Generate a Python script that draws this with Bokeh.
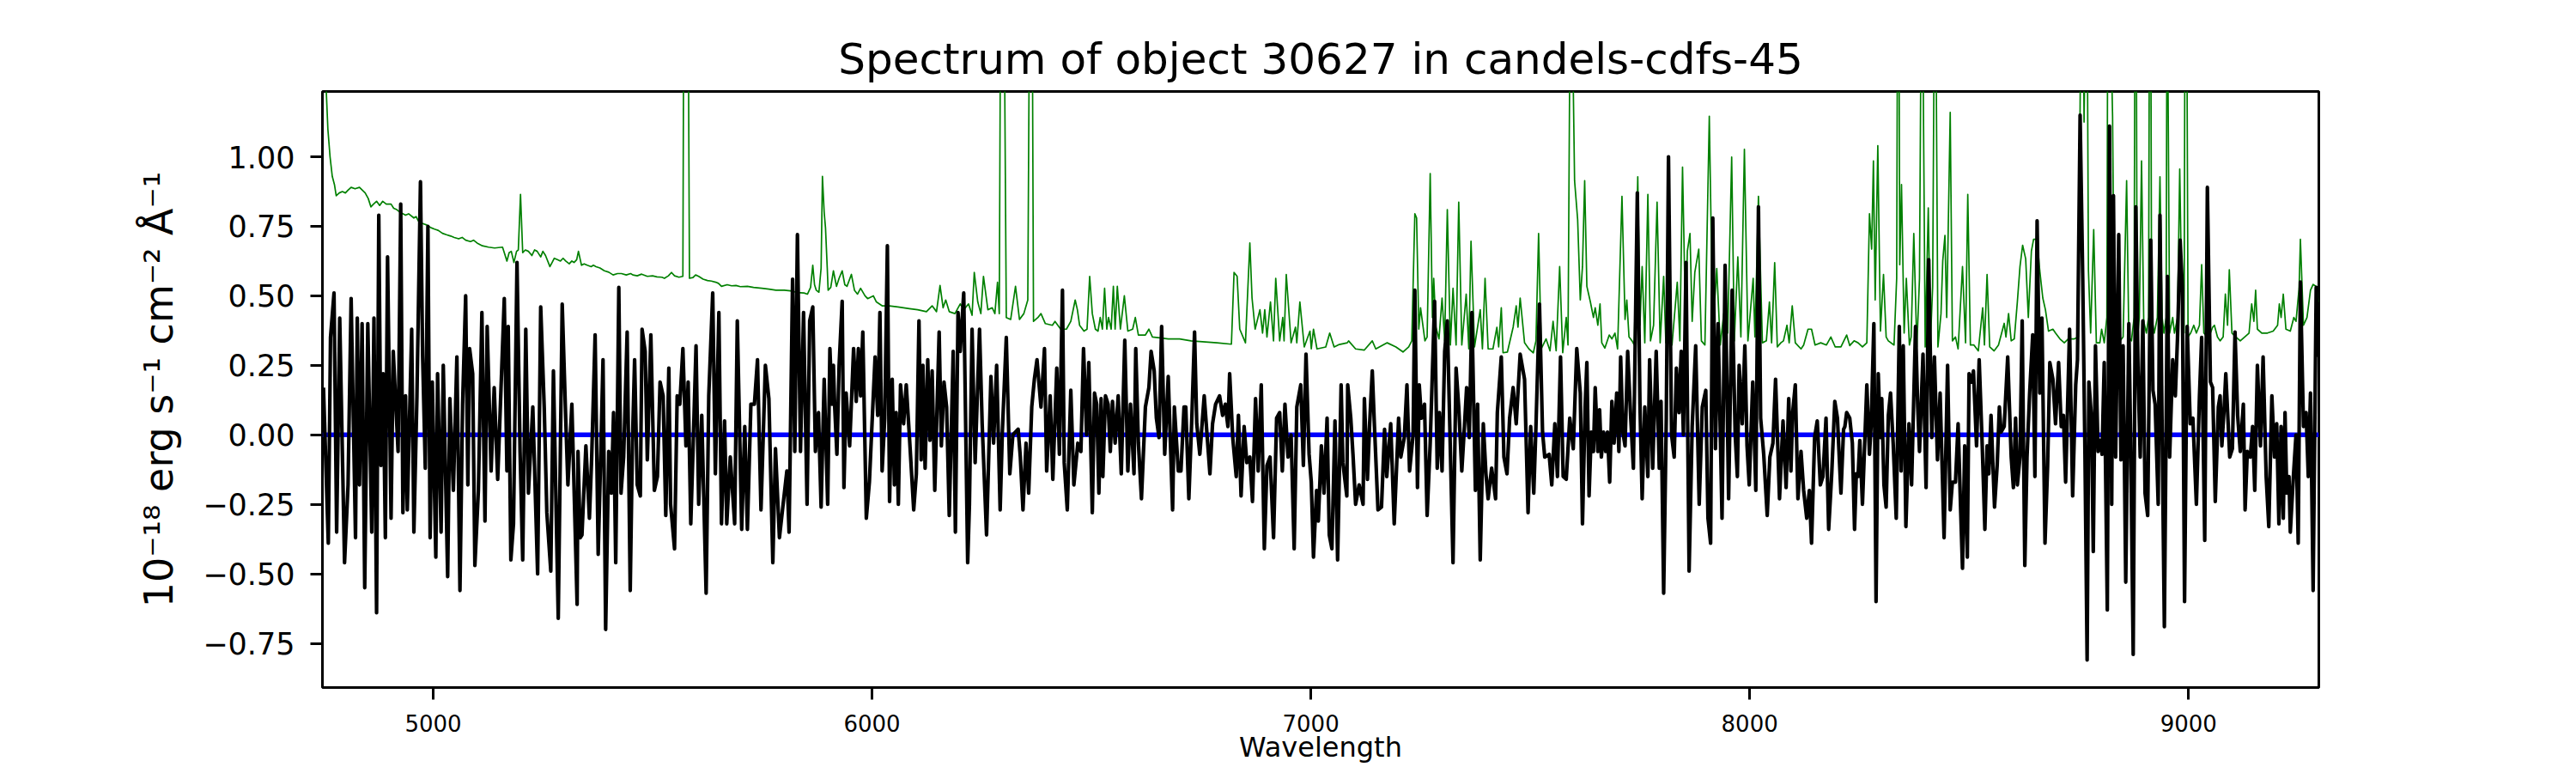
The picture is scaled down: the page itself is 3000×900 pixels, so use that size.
from bokeh.plotting import figure
from bokeh.models import Range1d, FixedTicker, CustomJSTickFormatter, Span
from bokeh.embed import file_html
from bokeh.resources import INLINE

# ---------------- texts, ticks, limits ----------------
title_text = "Spectrum of object 30627 in candels-cdfs-45"
x_label = "Wavelength"
y_label = "10\u207b\u00b9\u2078 erg s\u207b\u00b9 cm\u207b\u00b2 \u00c5\u207b\u00b9"
x_ticks = [5000, 6000, 7000, 8000, 9000]
y_ticks = [-0.75, -0.5, -0.25, 0.0, 0.25, 0.5, 0.75, 1.0]
x_limits = (4747.6, 9297.0)
y_limits = (-0.909, 1.235)
zero_level = 0.0

obs_4750_5330 = [(4750,0.17),(4761,-0.39),(4766,0.35),(4774,0.51),(4780,-0.35),(4787,0.42),(4798,-0.46),(4806,-0.18),(4813,0.49),(4823,-0.37),(4827,0.42),(4832,-0.18),(4838,0.40),(4844,-0.55),(4851,0.40),(4860,-0.35),(4865,0.42),(4871,-0.64),(4876,0.79),(4881,-0.11),(4886,0.22),(4891,-0.37),(4896,0.64),(4904,-0.30),(4909,0.30),(4920,-0.06),(4926,0.83),(4931,-0.28),(4937,0.14),(4941,-0.27),(4951,0.38),(4956,-0.35),(4963,0.14),(4971,0.91),(4976,0.28),(4982,-0.12),(4988,0.75),(4993,-0.37),(4998,0.19),(5006,-0.44),(5010,0.22),(5018,-0.35),(5023,0.25),(5033,-0.51),(5038,0.13),(5046,-0.20),(5054,0.28),(5061,-0.56),(5067,0.11),(5074,0.50),(5079,-0.18),(5083,0.31),(5090,0.22),(5095,-0.47),(5103,-0.20),(5111,0.44),(5118,-0.31),(5123,0.39),(5132,-0.13),(5139,0.17),(5147,-0.16),(5162,0.49),(5168,-0.13),(5171,0.39),(5177,-0.45),(5183,-0.32),(5191,0.62),(5198,-0.06),(5204,-0.45),(5211,0.38),(5217,-0.21),(5227,0.10),(5238,-0.50),(5245,0.46),(5253,0.10),(5259,-0.28),(5268,-0.49),(5274,0.23),(5285,-0.66),(5294,0.47),(5302,0.06),(5307,-0.18),(5316,0.11),(5328,-0.61)]
obs_5330_5905 = [(5330,-0.06),(5335,-0.37),(5339,-0.36),(5348,-0.04),(5356,-0.30),(5361,-0.09),(5369,0.36),(5376,-0.43),(5382,-0.06),(5387,0.27),(5393,-0.70),(5400,-0.06),(5406,-0.21),(5411,0.08),(5416,-0.46),(5423,0.53),(5428,-0.21),(5434,-0.08),(5442,0.37),(5449,-0.56),(5454,-0.03),(5459,0.27),(5465,-0.18),(5472,-0.22),(5476,0.38),(5483,0.30),(5488,-0.09),(5496,0.36),(5504,-0.20),(5511,-0.15),(5517,0.19),(5524,0.14),(5530,-0.29),(5537,0.24),(5541,-0.25),(5550,-0.41),(5556,0.14),(5562,0.11),(5569,0.31),(5576,-0.04),(5581,0.19),(5587,-0.32),(5592,-0.06),(5599,0.32),(5605,-0.25),(5612,0.07),(5622,-0.57),(5628,0.14),(5637,0.51),(5643,-0.14),(5651,0.44),(5657,-0.32),(5664,0.05),(5669,-0.32),(5677,-0.08),(5687,-0.32),(5693,0.41),(5703,-0.34),(5710,0.03),(5716,-0.34),(5724,0.11),(5732,0.11),(5739,0.27),(5747,-0.27),(5757,0.25),(5765,0.13),(5774,-0.46),(5780,-0.05),(5789,-0.37),(5796,-0.27),(5806,-0.13),(5811,-0.35),(5819,0.56),(5824,-0.06),(5830,0.72),(5837,-0.06),(5844,0.44),(5852,-0.25),(5858,0.41),(5865,0.46),(5871,-0.06),(5878,0.08),(5884,-0.26),(5891,0.20),(5899,-0.25),(5904,0.31)]
obs_5905_6485 = [(5909,0.11),(5912,0.25),(5915,0.10),(5920,-0.07),(5925,0.25),(5932,0.48),(5936,-0.19),(5941,0.15),(5949,-0.04),(5958,0.31),(5964,0.12),(5969,0.31),(5974,0.14),(5979,0.37),(5987,-0.30),(5994,-0.17),(6000,0.04),(6007,0.28),(6013,0.07),(6018,0.44),(6023,-0.13),(6029,0.06),(6035,0.68),(6040,-0.24),(6046,0.20),(6051,-0.18),(6055,0.08),(6060,-0.25),(6065,0.18),(6072,0.04),(6078,0.18),(6085,0.00),(6095,-0.27),(6101,-0.14),(6107,0.41),(6112,-0.09),(6116,0.25),(6121,-0.12),(6127,0.27),(6132,-0.02),(6137,0.23),(6143,-0.20),(6153,0.37),(6158,-0.04),(6164,0.19),(6170,0.10),(6176,-0.29),(6185,0.30),(6190,-0.35),(6196,0.44),(6201,0.30),(6209,0.51),(6218,-0.46),(6222,-0.25),(6228,0.38),(6235,-0.10),(6245,0.38),(6251,0.04),(6261,-0.36),(6271,0.21),(6277,-0.03),(6284,0.25),(6292,-0.27),(6297,0.01),(6306,0.35),(6314,-0.14),(6321,0.00),(6333,0.02),(6338,-0.08),(6344,-0.27),(6351,-0.03),(6357,-0.21),(6364,0.10),(6370,0.20),(6376,0.27),(6385,0.10),(6393,0.31),(6398,-0.13),(6406,0.14),(6412,-0.16),(6421,0.24),(6427,-0.07),(6434,0.52),(6438,-0.10),(6445,-0.27),(6453,0.16),(6460,-0.18),(6469,-0.03),(6476,-0.06),(6482,0.31)]
obs_6485_7065 = [(6489,0.00),(6494,0.26),(6502,-0.28),(6507,0.15),(6512,0.11),(6517,-0.21),(6522,0.13),(6526,-0.15),(6532,0.14),(6538,0.11),(6543,-0.06),(6548,0.12),(6554,-0.03),(6561,0.14),(6568,-0.14),(6576,0.34),(6583,-0.13),(6589,0.11),(6597,-0.14),(6601,0.31),(6607,-0.03),(6614,-0.23),(6623,0.10),(6631,0.17),(6636,0.30),(6643,0.23),(6648,0.06),(6654,-0.01),(6660,0.39),(6667,-0.07),(6675,0.21),(6685,-0.27),(6689,0.10),(6698,-0.13),(6704,-0.13),(6711,0.10),(6715,0.10),(6722,-0.23),(6729,0.07),(6735,0.37),(6740,0.04),(6747,-0.07),(6757,0.14),(6763,0.01),(6770,-0.14),(6776,0.04),(6783,0.11),(6792,0.14),(6799,0.07),(6805,0.11),(6811,0.03),(6815,0.22),(6822,-0.01),(6830,-0.15),(6835,0.07),(6841,-0.22),(6848,0.03),(6854,-0.10),(6861,-0.08),(6867,-0.24),(6874,0.13),(6880,-0.13),(6887,0.18),(6894,-0.41),(6900,-0.11),(6907,-0.08),(6915,-0.37),(6922,0.06),(6929,0.08),(6935,-0.13),(6941,0.11),(6948,-0.08),(6955,0.00),(6962,-0.41),(6968,0.10),(6977,0.18),(6983,-0.11),(6989,0.29),(6996,-0.07),(7001,-0.17),(7006,-0.44),(7013,-0.20),(7017,-0.31),(7024,-0.04),(7030,-0.21),(7037,0.06),(7042,-0.36),(7048,-0.41),(7055,0.05),(7061,-0.45)]
obs_7065_7635 = [(7069,0.18),(7073,-0.10),(7082,-0.22),(7084,0.18),(7091,0.06),(7096,-0.07),(7102,-0.25),(7110,-0.18),(7119,-0.25),(7122,0.13),(7129,-0.16),(7134,0.04),(7140,0.23),(7145,0.03),(7153,-0.27),(7161,-0.26),(7168,0.02),(7173,-0.15),(7182,0.04),(7190,-0.32),(7200,0.06),(7205,-0.08),(7213,-0.01),(7219,0.18),(7225,-0.13),(7233,0.00),(7237,0.52),(7243,-0.19),(7247,0.18),(7252,0.06),(7259,0.11),(7265,-0.29),(7272,-0.03),(7282,0.48),(7288,-0.12),(7293,0.08),(7299,-0.13),(7305,0.30),(7311,0.41),(7318,-0.06),(7324,-0.46),(7331,0.24),(7337,0.10),(7344,-0.13),(7350,0.03),(7355,0.17),(7361,-0.01),(7367,0.44),(7375,-0.20),(7380,0.11),(7386,-0.45),(7393,0.04),(7399,-0.14),(7404,-0.23),(7412,-0.12),(7421,-0.23),(7425,0.08),(7434,0.28),(7440,-0.08),(7447,-0.14),(7453,0.06),(7461,0.17),(7468,0.04),(7477,0.29),(7487,0.20),(7495,-0.28),(7501,0.03),(7508,-0.21),(7513,0.03),(7521,0.47),(7528,0.01),(7533,-0.08),(7543,-0.07),(7549,-0.18),(7556,0.04),(7562,-0.15),(7569,0.28),(7575,-0.15),(7582,-0.16),(7590,0.06),(7598,-0.05),(7606,0.31),(7614,0.15),(7619,-0.32),(7625,0.10),(7629,0.26),(7634,-0.22)]
obs_7635_8215 = [(7639,0.01),(7644,-0.06),(7648,0.17),(7654,-0.06),(7658,0.09),(7662,-0.08),(7667,0.01),(7672,-0.06),(7676,0.01),(7681,-0.17),(7686,0.12),(7691,-0.03),(7697,0.15),(7702,-0.06),(7706,0.28),(7711,0.01),(7716,-0.04),(7722,0.30),(7729,0.06),(7735,-0.12),(7744,0.87),(7750,0.11),(7755,-0.23),(7761,0.10),(7768,-0.15),(7772,0.27),(7779,-0.12),(7787,0.30),(7794,-0.12),(7798,0.12),(7804,-0.57),(7810,0.06),(7815,1.00),(7822,0.00),(7828,-0.08),(7833,0.24),(7839,0.08),(7844,0.30),(7849,0.00),(7855,0.62),(7862,-0.49),(7869,0.03),(7877,0.32),(7885,-0.25),(7892,0.10),(7900,0.16),(7905,-0.30),(7911,-0.39),(7916,0.78),(7922,-0.05),(7928,0.40),(7937,-0.30),(7944,0.61),(7952,-0.23),(7960,0.52),(7967,0.00),(7972,-0.15),(7976,0.25),(7983,0.04),(7989,0.32),(7994,-0.04),(7999,-0.18),(8007,0.19),(8014,-0.20),(8020,0.82),(8025,0.06),(8032,-0.07),(8040,-0.29),(8046,-0.08),(8053,-0.03),(8059,0.20),(8068,-0.23),(8076,0.05),(8083,-0.19),(8089,0.13),(8094,-0.13),(8098,0.08),(8104,0.18),(8110,-0.23),(8117,-0.06),(8123,-0.20),(8130,-0.30),(8136,-0.20),(8141,-0.39),(8148,-0.01),(8154,0.05),(8161,-0.18),(8167,-0.15),(8174,0.06),(8180,-0.34),(8187,-0.14),(8194,0.12),(8200,0.06),(8208,-0.21),(8214,0.02)]
obs_8215_8790 = [(8217,0.03),(8221,0.08),(8228,0.06),(8234,-0.03),(8239,-0.34),(8243,-0.14),(8247,-0.15),(8251,-0.02),(8257,-0.25),(8267,0.18),(8273,-0.07),(8277,0.04),(8283,0.40),(8288,-0.60),(8293,0.22),(8298,-0.01),(8301,0.13),(8306,-0.18),(8311,-0.26),(8316,0.07),(8321,0.15),(8327,-0.03),(8334,-0.30),(8341,0.39),(8345,-0.13),(8350,0.32),(8356,-0.33),(8363,0.04),(8369,-0.18),(8378,0.39),(8383,0.10),(8387,-0.06),(8395,0.29),(8402,-0.19),(8408,0.63),(8415,-0.01),(8421,0.28),(8428,-0.09),(8434,0.15),(8443,-0.37),(8451,0.25),(8457,-0.27),(8462,-0.17),(8469,-0.17),(8475,0.04),(8481,-0.28),(8485,-0.48),(8490,-0.04),(8496,-0.44),(8500,0.22),(8506,0.19),(8510,0.23),(8517,-0.04),(8523,0.27),(8530,-0.04),(8536,-0.34),(8541,-0.04),(8545,-0.14),(8550,0.07),(8558,-0.26),(8564,-0.11),(8569,0.10),(8573,0.01),(8580,0.03),(8588,0.28),(8596,-0.08),(8601,-0.19),(8606,0.06),(8610,-0.18),(8616,-0.08),(8621,0.41),(8627,-0.47),(8632,-0.08),(8638,0.15),(8645,0.36),(8650,-0.15),(8655,0.77),(8661,0.15),(8666,0.42),(8673,-0.39),(8679,-0.11),(8684,0.26),(8691,0.20),(8697,0.04),(8704,0.26),(8710,0.03),(8715,0.07),(8720,-0.17),(8729,0.38),(8736,-0.22),(8743,0.18),(8747,0.27),(8753,1.15),(8759,0.56),(8764,-0.06),(8769,-0.81),(8773,0.19),(8779,0.06),(8783,-0.42),(8788,0.32)]
obs_8790_9296 = [(8794,-0.06),(8799,-0.02),(8803,-0.07),(8808,0.26),(8815,-0.63),(8820,1.11),(8825,-0.25),(8829,0.86),(8834,-0.08),(8841,0.72),(8846,-0.09),(8851,0.32),(8857,-0.53),(8864,0.40),(8868,0.00),(8874,-0.79),(8880,0.82),(8885,0.23),(8890,-0.08),(8896,0.41),(8901,-0.21),(8907,-0.29),(8914,0.70),(8919,0.16),(8924,0.11),(8931,-0.25),(8935,0.79),(8940,0.00),(8945,-0.69),(8952,0.57),(8957,-0.08),(8964,0.27),(8970,0.14),(8975,0.35),(8981,0.70),(8986,0.53),(8991,-0.60),(8997,0.39),(9004,0.04),(9010,0.06),(9018,-0.25),(9025,0.14),(9030,0.35),(9037,-0.38),(9043,0.89),(9050,0.19),(9055,0.17),(9061,-0.24),(9068,0.10),(9072,0.14),(9076,-0.04),(9081,0.09),(9085,0.22),(9094,-0.08),(9100,-0.05),(9106,0.37),(9112,0.07),(9118,-0.06),(9125,0.11),(9129,-0.27),(9134,-0.06),(9141,-0.08),(9146,0.03),(9151,-0.20),(9157,0.25),(9164,-0.04),(9170,0.28),(9177,-0.15),(9183,-0.33),(9190,0.14),(9196,-0.08),(9201,0.04),(9206,-0.32),(9211,0.03),(9216,-0.30),(9220,0.08),(9224,-0.21),(9229,-0.15),(9232,-0.35),(9239,-0.15),(9245,0.00),(9250,-0.39),(9255,0.55),(9262,0.03),(9268,0.08),(9273,-0.15),(9278,0.15),(9284,-0.56),(9291,0.53),(9296,0.28)]

# ---------------- noise / sky spectrum (green) ----------------
err_4748_5325 = [(4748,1.60),(4756,1.25),(4760,1.10),(4765,1.00),(4770,0.93),(4775,0.90),(4779,0.86),(4786,0.87),(4793,0.875),(4800,0.87),(4806,0.88),(4813,0.89),(4822,0.885),(4832,0.89),(4845,0.87),(4852,0.85),(4858,0.82),(4864,0.83),(4871,0.84),(4878,0.825),(4885,0.84),(4893,0.83),(4904,0.83),(4910,0.815),(4917,0.81),(4925,0.80),(4937,0.79),(4944,0.795),(4956,0.78),(4961,0.785),(4966,0.77),(4976,0.76),(4985,0.755),(4995,0.745),(5003,0.74),(5012,0.735),(5021,0.725),(5030,0.72),(5040,0.715),(5048,0.71),(5058,0.705),(5066,0.71),(5074,0.70),(5085,0.695),(5092,0.70),(5100,0.69),(5112,0.68),(5126,0.675),(5140,0.672),(5158,0.675),(5163,0.65),(5168,0.625),(5173,0.655),(5178,0.66),(5184,0.62),(5190,0.66),(5194,0.665),(5199,0.865),(5204,0.655),(5210,0.665),(5217,0.66),(5225,0.645),(5231,0.665),(5237,0.66),(5245,0.64),(5250,0.66),(5256,0.645),(5266,0.605),(5271,0.62),(5276,0.635),(5283,0.63),(5290,0.625),(5296,0.635),(5302,0.625),(5310,0.615),(5316,0.625),(5321,0.62)]
err_5325_5910 = [(5327,0.63),(5331,0.66),(5338,0.61),(5344,0.615),(5351,0.61),(5360,0.605),(5365,0.61),(5371,0.605),(5380,0.60),(5390,0.59),(5400,0.585),(5410,0.575),(5420,0.58),(5429,0.58),(5440,0.575),(5450,0.58),(5455,0.575),(5465,0.572),(5475,0.578),(5488,0.57),(5500,0.572),(5510,0.568),(5521,0.567),(5527,0.563),(5536,0.572),(5543,0.584),(5550,0.572),(5560,0.567),(5569,0.57),(5571,1.60),(5581,1.60),(5584,0.563),(5592,0.566),(5598,0.575),(5605,0.57),(5615,0.56),(5625,0.555),(5634,0.553),(5644,0.549),(5650,0.545),(5657,0.534),(5670,0.54),(5680,0.536),(5690,0.537),(5700,0.533),(5716,0.534),(5730,0.53),(5749,0.527),(5765,0.524),(5781,0.52),(5800,0.52),(5814,0.518),(5830,0.512),(5845,0.51),(5853,0.506),(5860,0.53),(5865,0.61),(5869,0.54),(5873,0.52),(5879,0.513),(5884,0.60),(5887,0.93),(5891,0.80),(5894,0.745),(5898,0.60),(5900,0.52),(5906,0.53)]
err_5910_6485 = [(5912,0.59),(5919,0.534),(5925,0.563),(5932,0.59),(5938,0.54),(5943,0.534),(5953,0.577),(5960,0.52),(5967,0.506),(5974,0.527),(5984,0.50),(5990,0.49),(6003,0.50),(6010,0.478),(6023,0.464),(6039,0.464),(6059,0.46),(6085,0.454),(6104,0.45),(6124,0.443),(6137,0.464),(6147,0.443),(6155,0.537),(6162,0.457),(6168,0.485),(6176,0.443),(6189,0.436),(6201,0.471),(6209,0.45),(6220,0.471),(6228,0.43),(6233,0.584),(6241,0.478),(6248,0.436),(6254,0.57),(6264,0.45),(6274,0.457),(6280,0.436),(6286,0.549),(6290,0.436),(6293,1.6),(6301,1.6),(6306,0.422),(6316,0.415),(6327,0.534),(6336,0.415),(6346,0.436),(6355,0.485),(6359,1.6),(6365,1.6),(6368,0.408),(6378,0.422),(6385,0.436),(6395,0.40),(6411,0.394),(6417,0.408),(6430,0.38),(6443,0.38),(6453,0.408),(6463,0.485),(6468,0.45),(6473,0.394),(6483,0.373)]
err_6485_7060 = [(6490,0.38),(6496,0.57),(6502,0.436),(6509,0.38),(6515,0.373),(6520,0.422),(6525,0.38),(6530,0.527),(6535,0.38),(6539,0.422),(6545,0.38),(6550,0.534),(6554,0.38),(6559,0.534),(6566,0.38),(6575,0.50),(6583,0.373),(6594,0.38),(6600,0.422),(6607,0.359),(6623,0.359),(6631,0.38),(6639,0.352),(6656,0.349),(6675,0.345),(6701,0.345),(6727,0.338),(6753,0.335),(6786,0.331),(6819,0.326),(6825,0.584),(6832,0.57),(6838,0.38),(6851,0.331),(6861,0.69),(6866,0.492),(6873,0.38),(6884,0.45),(6890,0.366),(6895,0.45),(6900,0.352),(6908,0.478),(6915,0.338),(6920,0.563),(6929,0.338),(6936,0.422),(6939,0.338),(6944,0.577),(6955,0.331),(6965,0.387),(6968,0.331),(6975,0.478),(6985,0.316),(6998,0.373),(7001,0.309),(7006,0.38),(7014,0.309),(7034,0.316),(7043,0.366),(7053,0.316)]
err_7060_7645 = [(7065,0.325),(7083,0.331),(7086,0.338),(7102,0.309),(7122,0.305),(7140,0.338),(7148,0.309),(7174,0.331),(7194,0.316),(7210,0.298),(7223,0.316),(7230,0.338),(7237,0.795),(7241,0.78),(7246,0.38),(7250,0.457),(7260,0.338),(7265,0.352),(7272,0.94),(7277,0.422),(7280,0.563),(7285,0.387),(7292,0.345),(7299,0.492),(7305,0.338),(7311,0.81),(7318,0.323),(7324,0.527),(7331,0.323),(7337,0.837),(7344,0.323),(7354,0.506),(7360,0.309),(7365,0.696),(7373,0.316),(7386,0.45),(7391,0.309),(7397,0.563),(7404,0.309),(7415,0.309),(7424,0.387),(7428,0.316),(7434,0.457),(7438,0.295),(7448,0.298),(7461,0.387),(7468,0.464),(7472,0.387),(7477,0.492),(7487,0.331),(7497,0.309),(7507,0.295),(7513,0.338),(7519,0.724),(7525,0.309),(7536,0.345),(7545,0.302),(7552,0.408),(7559,0.302),(7567,0.605),(7574,0.295),(7582,0.422),(7586,0.323),(7591,1.6),(7595,1.6),(7601,0.914),(7608,0.774),(7614,0.485),(7619,0.605),(7624,0.914),(7629,0.534),(7637,0.478),(7644,0.422)]
err_7645_8225 = [(7648,0.457),(7654,0.394),(7659,0.471),(7663,0.331),(7670,0.312),(7680,0.359),(7686,0.345),(7693,0.366),(7699,0.309),(7709,0.858),(7716,0.415),(7720,0.485),(7725,0.352),(7732,0.338),(7737,0.323),(7745,0.928),(7750,0.394),(7755,0.605),(7761,0.331),(7768,0.865),(7774,0.338),(7781,0.394),(7789,0.837),(7796,0.331),(7804,0.57),(7809,0.331),(7815,0.394),(7823,0.323),(7835,0.549),(7841,0.338),(7847,0.963),(7854,0.394),(7858,0.661),(7864,0.724),(7869,0.408),(7875,0.584),(7884,0.668),(7890,0.338),(7898,0.323),(7908,1.146),(7916,0.366),(7925,0.598),(7933,0.323),(7941,0.436),(7950,0.366),(7959,0.999),(7965,0.338),(7973,0.64),(7980,0.352),(7988,1.027),(7996,0.338),(8008,0.563),(8012,0.352),(8020,0.858),(8029,0.331),(8038,0.338),(8045,0.478),(8050,0.331),(8057,0.619),(8063,0.316),(8071,0.331),(8077,0.338),(8085,0.394),(8090,0.331),(8097,0.464),(8104,0.331),(8117,0.309),(8123,0.323),(8133,0.38),(8141,0.38),(8149,0.323),(8162,0.331),(8175,0.323),(8185,0.352),(8195,0.316),(8208,0.316),(8221,0.359)]
err_8225_8800 = [(8228,0.321),(8238,0.338),(8247,0.331),(8257,0.316),(8267,0.331),(8273,0.795),(8278,0.668),(8282,0.985),(8286,0.485),(8292,1.04),(8298,0.373),(8305,0.577),(8311,0.352),(8316,0.338),(8329,0.323),(8335,0.563),(8337,1.6),(8340,1.6),(8342,0.612),(8346,0.90),(8352,0.366),(8357,0.563),(8364,0.323),(8368,0.352),(8374,0.724),(8381,0.316),(8387,0.563),(8391,1.6),(8394,1.6),(8400,0.316),(8407,0.816),(8412,0.338),(8417,0.534),(8421,1.6),(8424,1.6),(8429,0.316),(8436,0.436),(8440,0.626),(8445,0.717),(8449,0.422),(8457,1.16),(8462,0.338),(8469,0.352),(8475,0.309),(8485,0.605),(8492,0.331),(8497,0.865),(8503,0.323),(8511,0.323),(8521,0.302),(8531,0.457),(8535,0.323),(8541,0.577),(8547,0.316),(8557,0.302),(8567,0.323),(8580,0.401),(8584,0.352),(8590,0.436),(8596,0.338),(8603,0.345),(8610,0.478),(8616,0.605),(8622,0.682),(8629,0.633),(8635,0.422),(8642,0.661),(8647,0.703),(8655,0.703),(8661,0.591),(8668,0.492),(8674,0.45),(8681,0.373),(8691,0.38),(8697,0.366),(8707,0.345),(8717,0.331),(8726,0.345),(8740,0.345),(8749,0.352),(8755,1.6),(8760,1.6),(8762,1.125),(8766,1.6),(8769,1.6),(8772,0.591),(8777,0.366),(8784,0.738),(8790,0.331),(8798,0.331)]
err_8800_9296 = [(8802,0.38),(8808,0.331),(8814,0.422),(8816,1.6),(8821,1.6),(8827,1.146),(8831,0.366),(8838,0.366),(8844,0.338),(8851,0.352),(8859,0.914),(8864,0.352),(8870,0.338),(8876,0.422),(8878,1.6),(8881,1.6),(8883,0.338),(8888,0.422),(8893,0.985),(8898,0.408),(8904,0.366),(8909,0.422),(8911,1.6),(8914,1.6),(8916,0.422),(8922,0.366),(8929,0.422),(8935,0.928),(8940,0.422),(8944,0.366),(8949,0.422),(8951,1.6),(8952,1.6),(8957,0.366),(8964,0.422),(8968,0.366),(8975,0.422),(8980,0.956),(8984,0.563),(8990,0.366),(8992,1.6),(8996,1.6),(8999,0.352),(9005,0.366),(9012,0.394),(9018,0.366),(9025,0.394),(9030,0.612),(9035,0.366),(9043,0.352),(9050,0.366),(9055,0.387),(9059,0.394),(9066,0.352),(9072,0.338),(9079,0.352),(9084,0.506),(9089,0.394),(9093,0.594),(9099,0.366),(9108,0.352),(9118,0.338),(9128,0.352),(9138,0.366),(9144,0.471),(9149,0.408),(9153,0.52),(9157,0.38),(9167,0.366),(9180,0.366),(9193,0.373),(9203,0.394),(9207,0.471),(9211,0.422),(9216,0.506),(9222,0.38),(9232,0.373),(9240,0.422),(9245,0.408),(9252,0.527),(9255,0.703),(9262,0.394),(9270,0.422),(9278,0.52),(9284,0.541),(9291,0.534),(9296,0.478)]

obs_segments = [obs_4750_5330, obs_5330_5905, obs_5905_6485, obs_6485_7065,
                obs_7065_7635, obs_7635_8215, obs_8215_8790, obs_8790_9296]
err_segments = [err_4748_5325, err_5325_5910, err_5910_6485, err_6485_7060,
                err_7060_7645, err_7645_8225, err_8225_8800, err_8800_9296]

obs_wave = [w for seg in obs_segments for w, f in seg]
obs_flux = [f for seg in obs_segments for w, f in seg]
err_wave = [w for seg in err_segments for w, f in seg]
err_flux = [f for seg in err_segments for w, f in seg]

FONT = "DejaVu Sans"

p = figure(frame_width=2325, frame_height=694,
           min_border_left=375, min_border_right=284,
           min_border_top=106, min_border_bottom=84,
           x_range=Range1d(*x_limits), y_range=Range1d(*y_limits),
           output_backend="svg", toolbar_location=None,
           title=title_text)

p.background_fill_color = "white"
p.border_fill_color = "white"
p.outline_line_color = "black"
p.outline_line_width = 3
p.grid.visible = False

p.title.text_font = FONT
p.title.text_font_size = "50px"
p.title.text_font_style = "normal"
p.title.text_color = "black"
p.title.align = "center"
p.title.standoff = 18

# zero level (blue) below the spectra
zero_span = Span(location=zero_level, dimension="width", line_color="#0000ff",
                 line_width=5.5, level="underlay")
p.add_layout(zero_span)

p.line(err_wave, err_flux, line_color="#008000", line_width=1.7, line_join="round")
p.line(obs_wave, obs_flux, line_color="black", line_width=4.2, line_join="round")

for ax in (p.xaxis[0], p.yaxis[0]):
    ax.axis_line_color = None
    ax.major_tick_line_color = "black"
    ax.major_tick_line_width = 3
    ax.major_tick_out = 14
    ax.major_tick_in = 0
    ax.minor_tick_line_color = None
    ax.major_label_text_font = FONT
    ax.major_label_text_color = "black"
    ax.axis_label_text_font = FONT
    ax.axis_label_text_font_style = "normal"
    ax.axis_label_text_color = "black"

xa = p.xaxis[0]
xa.ticker = FixedTicker(ticks=x_ticks)
xa.major_label_text_font_size = "26px"
xa.major_label_standoff = 17
xa.axis_label = x_label
xa.axis_label_text_font_size = "32px"
xa.axis_label_standoff = -4

ya = p.yaxis[0]
ya.ticker = FixedTicker(ticks=y_ticks)
ya.formatter = CustomJSTickFormatter(code="""
    const s = Math.abs(tick).toFixed(2);
    return (tick < -1e-9 ? "\u2212" : "") + s;
""")
ya.major_label_text_font_size = "35px"
ya.major_label_standoff = 18
ya.axis_label = y_label
ya.axis_label_text_font_size = "46px"
ya.axis_label_standoff = 21

open("out.html", "w").write(file_html(p, INLINE))
